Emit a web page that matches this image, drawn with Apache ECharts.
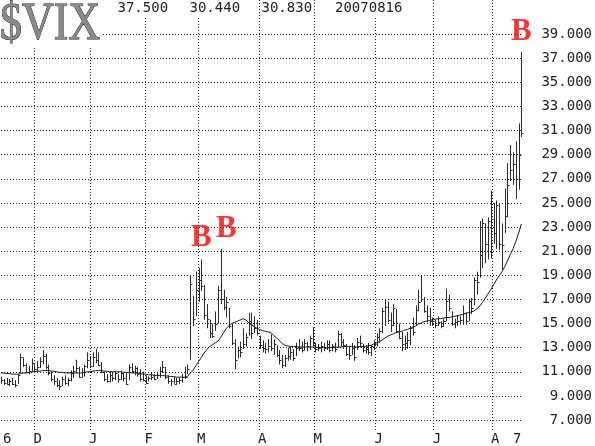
<!DOCTYPE html>
<html>
<head>
<meta charset="utf-8">
<style>
  html, body { margin: 0; padding: 0; background: #fff; }
  #chart { width: 595px; height: 446px; }
</style>
<script src="https://cdn.jsdelivr.net/npm/echarts@6/dist/echarts.min.js"></script>
</head>
<body>
<div id="chart"></div>
<script>
// trading days, Nov 15 2006 .. Aug 16 2007
const months = ['200611', '200612', '200701', '200702', '200703', '200704', '200705', '200706', '200707', '200708'];
const tradingDays = [
  [15, 16, 17, 20, 21, 22, 24, 27, 28, 29, 30],
  [1, 4, 5, 6, 7, 8, 11, 12, 13, 14, 15, 18, 19, 20, 21, 22, 26, 27, 28, 29],
  [3, 4, 5, 8, 9, 10, 11, 12, 16, 17, 18, 19, 22, 23, 24, 25, 26, 29, 30, 31],
  [1, 2, 5, 6, 7, 8, 9, 12, 13, 14, 15, 16, 20, 21, 22, 23, 26, 27, 28],
  [1, 2, 5, 6, 7, 8, 9, 12, 13, 14, 15, 16, 19, 20, 21, 22, 23, 26, 27, 28, 29, 30],
  [2, 3, 4, 5, 9, 10, 11, 12, 13, 16, 17, 18, 19, 20, 23, 24, 25, 26, 27, 30],
  [1, 2, 3, 4, 7, 8, 9, 10, 11, 14, 15, 16, 17, 18, 21, 22, 23, 24, 25, 29, 30, 31],
  [1, 4, 5, 6, 7, 8, 11, 12, 13, 14, 15, 18, 19, 20, 21, 22, 25, 26, 27, 28, 29],
  [2, 3, 5, 6, 9, 10, 11, 12, 13, 16, 17, 18, 19, 20, 23, 24, 25, 26, 27, 30, 31],
  [1, 2, 3, 6, 7, 8, 9, 10, 13, 14, 15, 16]
];

const highs = [
  10.6, 10.4, 10.5, 10.4, 10.5, 10.3, 10.8, 12.5, 12.2, 11.7, 11.5,
  12.1, 11.7, 11.9, 12.2, 12.8, 12.5, 11.6, 11.0, 10.7, 10.5, 10.3, 10.6, 10.7, 10.5, 11.1, 11.5, 12.0, 11.4, 11.3, 11.6,
  12.6, 12.3, 12.6, 12.9, 12.6, 11.8, 11.0, 10.8, 11.0, 10.9, 11.0, 10.8, 11.1, 10.9, 10.9, 11.6, 11.7, 11.5, 11.4, 11.2,
  11.0, 10.7, 10.6, 10.9, 10.8, 11.0, 11.4, 11.9, 11.4, 10.7, 10.4, 10.6, 10.5, 10.5, 10.8, 11.4, 11.6, 19.0, 17.3,
  19.3, 19.6, 20.3, 18.2, 16.6, 15.3, 15.0, 16.0, 18.1, 21.2, 17.8, 17.2, 16.3, 15.0, 13.7, 13.1, 13.5, 14.6, 14.2, 15.9, 15.9, 15.6,
  15.3, 14.0, 13.6, 13.4, 13.7, 14.1, 13.7, 13.2, 12.8, 12.4, 12.4, 13.0, 13.1, 12.9, 13.4, 13.7, 13.5, 13.7, 13.5, 14.0,
  14.7, 13.4, 13.3, 13.5, 13.4, 13.6, 13.6, 13.3, 13.4, 14.4, 14.2, 13.7, 13.3, 13.1, 13.4, 13.2, 13.8, 14.0, 13.3, 13.2, 13.4, 13.2,
  13.6, 14.2, 14.6, 16.3, 17.0, 16.8, 15.9, 16.6, 16.2, 15.0, 14.3, 14.0, 14.3, 14.8, 15.5, 16.5, 17.8, 19.0, 17.2, 16.5, 16.3,
  15.5, 15.3, 15.6, 15.2, 15.4, 17.9, 17.4, 16.0, 15.4, 15.7, 15.6, 16.5, 15.9, 17.0, 17.1, 18.8, 19.3, 23.5, 23.7, 23.3, 23.8,
  26.0, 25.0, 25.2, 25.0, 23.3, 26.2, 28.3, 29.8, 29.2, 30.1, 31.6, 37.5
];
const lows = [
  10.0, 9.9, 9.9, 9.8, 9.9, 9.7, 10.0, 10.9, 11.4, 10.9, 10.8,
  11.0, 10.9, 11.0, 11.3, 11.6, 11.2, 10.7, 10.2, 9.9, 9.7, 9.5, 9.8, 9.9, 9.8, 10.2, 10.5, 11.0, 10.5, 10.5, 10.6,
  11.3, 11.3, 11.4, 11.7, 11.5, 10.9, 10.2, 10.1, 10.1, 10.2, 10.3, 10.1, 10.3, 10.2, 9.9, 10.3, 10.9, 10.7, 10.6, 10.2,
  10.2, 10.0, 10.2, 10.3, 10.3, 10.4, 10.5, 10.9, 10.4, 10.0, 9.8, 10.0, 9.9, 10.0, 10.1, 10.4, 10.8, 12.0, 14.8,
  15.6, 16.8, 17.7, 15.3, 14.6, 13.8, 13.8, 14.4, 15.0, 16.6, 16.1, 15.5, 14.6, 13.2, 11.2, 12.1, 12.2, 12.9, 13.1, 14.0, 13.7, 14.2,
  14.0, 12.9, 12.6, 12.5, 12.6, 12.7, 12.4, 12.2, 11.6, 11.3, 11.4, 11.9, 12.0, 11.9, 12.3, 12.7, 12.6, 12.8, 12.7, 12.8,
  13.1, 12.6, 12.7, 12.6, 12.7, 12.8, 12.6, 12.7, 12.6, 13.0, 13.1, 12.9, 12.3, 12.0, 12.4, 11.9, 12.8, 13.0, 12.6, 12.5, 12.4, 12.3,
  12.8, 13.1, 13.4, 14.2, 14.8, 15.1, 14.3, 14.8, 14.2, 13.7, 12.7, 12.8, 12.9, 13.2, 14.0, 14.8, 16.0, 16.8, 15.9, 15.1, 14.8,
  14.8, 14.6, 14.8, 14.6, 14.7, 15.2, 16.0, 14.8, 14.6, 14.8, 14.9, 14.9, 14.9, 15.2, 15.8, 16.5, 17.4, 18.8, 19.6, 20.0, 20.3,
  20.4, 21.6, 21.2, 21.1, 19.4, 22.5, 23.8, 26.8, 26.5, 25.3, 26.1, 30.44
];
const closes = [
  10.3, 10.1, 10.0, 10.2, 10.0, 9.9, 10.7, 12.2, 11.6, 11.0, 11.1,
  11.7, 11.2, 11.4, 11.9, 12.3, 11.4, 10.9, 10.4, 10.2, 9.9, 9.8, 10.4, 10.1, 10.3, 10.9, 11.1, 11.3, 10.6, 11.0, 11.5,
  12.0, 11.5, 12.2, 12.0, 11.6, 11.0, 10.4, 10.2, 10.7, 10.5, 10.9, 10.4, 10.9, 10.5, 10.0, 11.4, 11.1, 11.3, 10.8, 10.4,
  10.3, 10.1, 10.5, 10.6, 10.4, 10.7, 11.1, 11.4, 10.6, 10.2, 10.2, 10.0, 10.2, 10.3, 10.6, 10.6, 11.2, 18.3, 15.4,
  17.8, 18.6, 18.1, 15.7, 15.4, 14.2, 14.0, 15.0, 17.8, 17.0, 16.4, 16.8, 14.8, 13.4, 12.0, 12.8, 12.6, 13.3, 13.9, 15.2, 14.2, 14.6,
  14.2, 13.2, 13.0, 12.9, 13.1, 13.0, 13.3, 12.4, 12.0, 11.6, 12.1, 12.3, 12.6, 12.1, 13.0, 13.0, 12.8, 13.4, 13.1, 13.8,
  13.4, 12.9, 13.0, 13.1, 13.0, 13.3, 12.8, 13.1, 12.9, 14.1, 13.5, 13.2, 12.5, 12.4, 13.0, 12.2, 13.5, 13.4, 12.8, 12.9, 12.6, 13.1,
  13.3, 13.9, 14.4, 16.0, 16.4, 15.3, 14.9, 16.3, 14.4, 13.8, 13.3, 13.4, 13.6, 14.6, 14.3, 16.1, 16.8, 17.0, 16.0, 15.6, 15.2,
  15.2, 14.9, 15.1, 14.8, 15.2, 16.9, 16.3, 15.0, 15.1, 15.2, 15.3, 15.9, 15.2, 16.9, 16.3, 18.6, 18.4, 20.7, 23.3, 21.6, 23.5,
  23.7, 22.5, 24.8, 21.6, 21.5, 23.9, 26.5, 27.7, 28.2, 27.0, 29.0, 30.83
];
// moving average line as drawn
const avgLine = [
  10.9, 10.9, 10.85, 10.85, 10.8, 10.8, 10.8, 10.85, 10.9, 10.9, 10.95,
  11.0, 11.0, 11.05, 11.05, 11.1, 11.1, 11.1, 11.05, 11.05, 11.0, 10.95, 10.95, 10.9, 10.9, 10.9, 10.9, 10.9, 10.9, 10.9, 10.95,
  11.0, 11.0, 11.05, 11.1, 11.1, 11.1, 11.05, 11.05, 11.0, 11.0, 11.0, 11.0, 11.0, 10.95, 10.95, 10.95, 10.9, 10.9, 10.9, 10.85,
  10.8, 10.8, 10.75, 10.75, 10.7, 10.7, 10.7, 10.7, 10.65, 10.65, 10.6, 10.6, 10.55, 10.55, 10.55, 10.55, 10.6, 10.9, 11.1,
  11.5, 11.85, 12.2, 12.55, 12.85, 13.1, 13.25, 13.4, 13.55, 13.85, 14.25, 14.6, 14.85, 15.0, 15.1, 15.2, 15.3, 15.4, 15.3, 15.05, 14.9, 14.75,
  14.6, 14.5, 14.4, 14.35, 14.3, 14.25, 14.0, 13.8, 13.6, 13.35, 13.2, 13.15, 13.1, 13.1, 13.1, 13.05, 13.05, 13.05, 13.05, 13.05,
  13.05, 13.05, 13.0, 13.0, 13.0, 13.0, 13.0, 13.0, 13.0, 13.05, 13.05, 13.1, 13.1, 13.1, 13.1, 13.05, 13.05, 13.1, 13.1, 13.1, 13.15, 13.2,
  13.3, 13.4, 13.5, 13.65, 13.8, 13.95, 14.05, 14.15, 14.25, 14.3, 14.35, 14.45, 14.5, 14.6, 14.7, 14.8, 14.95, 15.05, 15.15, 15.2, 15.25,
  15.3, 15.35, 15.4, 15.4, 15.45, 15.5, 15.5, 15.55, 15.6, 15.65, 15.7, 15.75, 15.85, 15.9, 15.95, 16.05, 16.2, 16.45, 16.75, 17.1, 17.45,
  17.8, 18.2, 18.6, 18.95, 19.3, 19.7, 20.2, 20.7, 21.2, 21.8, 22.5, 23.25
];

// last bar: high, low, close, date
const headerTexts = ['37.500', '30.440', '30.830', '20070816'];
const tickDates = ['20061115', '20061201', '20070103', '20070201', '20070301', '20070402', '20070501', '20070601', '20070702', '20070801', '20070813'];
const tickLabels = ['6', 'D', 'J', 'F', 'M', 'A', 'M', 'J', 'J', 'A', '7'];
const signalDates = ['20070305', '20070316', '20070816'];
const signalLevels = [22.05, 22.85, 39.2];

const dates = [];
months.forEach((m, k) => {
  tradingDays[k].forEach(d => dates.push(m + String(d).padStart(2, '0')));
});
const monthStarts = new Set(tickDates.slice(1, 10));
const labelFor = {};
tickDates.forEach((d, k) => { labelFor[d] = tickLabels[k]; });

const mono = '"DejaVu Sans Mono", monospace';
const dotted = { color: '#222', width: 1, type: [1, 2] };

function renderBar(params, api) {
  const i = api.value(0);
  const top = api.coord([i, api.value(1)]);
  const bottom = api.coord([i, api.value(2)]);
  const close = api.coord([i, api.value(3)]);
  const x = Math.round(top[0]) + 0.5;
  const cy = Math.round(close[1]) + 0.5;
  const style = { stroke: '#2a2a2a', lineWidth: 1 };
  return {
    type: 'group',
    children: [
      { type: 'line', shape: { x1: x, y1: top[1], x2: x, y2: bottom[1] }, style: style },
      { type: 'line', shape: { x1: x, y1: cy, x2: x + 2, y2: cy }, style: style }
    ]
  };
}

const chart = echarts.init(document.getElementById('chart'));
chart.setOption({
  animation: false,
  backgroundColor: '#fff',
  grid: [
    { left: 1, right: 72.6, top: 34, bottom: 26 },
    { left: 1, right: 72.6, top: 0, bottom: 16 }
  ],
  xAxis: [
    { type: 'category', gridIndex: 0, data: dates, boundaryGap: false, show: false },
    {
      type: 'category',
      gridIndex: 1,
      data: dates,
      boundaryGap: false,
      axisLine: { show: false },
      axisTick: { show: false },
      splitLine: {
        show: true,
        interval: (idx, val) => monthStarts.has(val),
        lineStyle: dotted
      },
      axisLabel: {
        interval: (idx, val) => val in labelFor,
        formatter: val => labelFor[val] || '',
        hideOverlap: false,
        align: 'left',
        margin: 2,
        padding: [0, 0, 0, -1],
        fontFamily: mono,
        fontSize: 14,
        color: '#222'
      }
    }
  ],
  yAxis: [
    {
      type: 'value',
      gridIndex: 0,
      position: 'right',
      min: 7,
      max: 39,
      interval: 2,
      axisLine: { show: false },
      axisTick: { show: false },
      splitLine: { show: true, lineStyle: dotted },
      axisLabel: {
        formatter: v => v.toFixed(3),
        align: 'right',
        margin: 70.6,
        fontFamily: mono,
        fontSize: 14,
        color: '#222'
      }
    },
    { type: 'value', gridIndex: 1, min: 0, max: 1, show: false }
  ],
  series: [
    {
      type: 'custom',
      xAxisIndex: 0,
      yAxisIndex: 0,
      renderItem: renderBar,
      encode: { x: 0, y: [1, 2, 3] },
      data: dates.map((d, i) => [i, highs[i], lows[i], closes[i]])
    },
    {
      type: 'line',
      xAxisIndex: 0,
      yAxisIndex: 0,
      data: avgLine,
      showSymbol: false,
      lineStyle: { color: '#1a1a1a', width: 1 }
    },
    {
      type: 'scatter',
      xAxisIndex: 0,
      yAxisIndex: 0,
      symbolSize: 1,
      clip: false,
      itemStyle: { color: 'rgba(0,0,0,0)' },
      data: signalDates.map((d, k) => [d, signalLevels[k]]),
      z: 5,
      label: {
        show: true,
        position: 'inside',
        formatter: 'B',
        fontFamily: '"Liberation Serif", serif',
        fontWeight: 'bold',
        fontSize: 31,
        color: '#ff0000'
      }
    }
  ],
  graphic: [
    { type: 'rect', z: 10, shape: { x: 0, y: 0, width: 101, height: 46 }, style: { fill: '#fff' } },
    {
      type: 'text', z: 11, x: 0, y: 25, scaleY: 1.18,
      style: {
        text: '$VIX', x: 0, y: 0, textAlign: 'left', textVerticalAlign: 'middle',
        font: 'normal 44px "Liberation Serif", serif',
        fill: '#8a8a8a', stroke: '#111', lineWidth: 0.8
      }
    },
    ...headerTexts.map((t, k) => ({
      type: 'text', z: 11,
      x: [116.5, 188.5, 260.5, 334][k], y: 8,
      style: {
        text: t, textAlign: 'left', textVerticalAlign: 'middle',
        font: '14px ' + mono, fill: '#222',
        backgroundColor: '#fff', padding: [2, 1]
      }
    }))
  ]
});
</script>
</body>
</html>
